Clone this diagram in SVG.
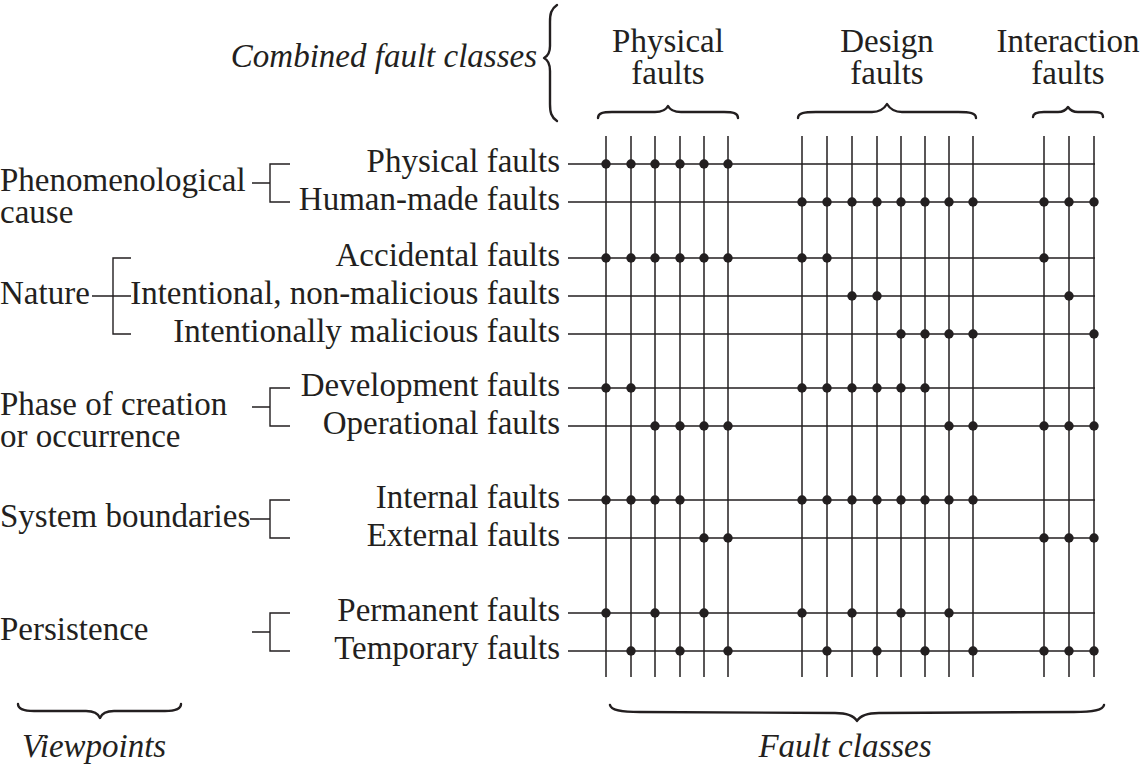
<svg xmlns="http://www.w3.org/2000/svg" width="1142" height="767" viewBox="0 0 1142 767">
<style>
text{font-family:'Liberation Serif','DejaVu Serif',serif;font-size:33px;fill:#231f20}
.it{font-style:italic}
.r{text-anchor:end}
.c{text-anchor:middle}
.ln{stroke:#231f20;stroke-width:1.5;fill:none}
.br{stroke:#231f20;stroke-width:1.4;fill:none}
.brace{stroke:#231f20;stroke-width:2.4;fill:none;stroke-linecap:round;stroke-linejoin:round}
.d{fill:#231f20}
</style>
<rect width="1142" height="767" fill="#fff"/>
<g font-family="Liberation Serif, DejaVu Serif, serif">
<g id="header">
  <text class="it r" x="537" y="67">Combined fault classes</text>
  <path class="brace" stroke-width="1.8" d="M557,5 C551,9 550,14 550,22 L550,46 C550,53 548,56 544,58 C548,60 550,64 550,71 L550,104 C550,112 551,117 557,121"/>
  <g id="hdr-physical">
    <text class="c" x="668" y="52">Physical</text>
    <text class="c" x="668" y="84">faults</text>
    <path class="brace" d="M598,118 C598,113 603,112 612,112 L655,112 C662,112 666,110 668,106 C670,110 674,112 681,112 L724,112 C733,112 738,113 738,118"/>
  </g>
  <g id="hdr-design">
    <text class="c" x="887" y="52">Design</text>
    <text class="c" x="887" y="84">faults</text>
    <path class="brace" stroke-width="3" d="M798,118 C798,113 804,112 816,112 L872,112 C880,112 884,109 887,104 C890,109 894,112 902,112 L958,112 C970,112 976,113 976,118"/>
  </g>
  <g id="hdr-interaction">
    <text class="c" x="1068" y="52">Interaction</text>
    <text class="c" x="1068" y="84">faults</text>
    <path class="brace" d="M1033,117 C1033,113 1037,112 1044,112 L1058,112 C1063,112 1066,110 1068,107 C1070,110 1073,112 1078,112 L1093,112 C1100,112 1103,113 1103,117"/>
  </g>
</g>

<g id="vp-phenomenological"><text x="0" y="191">Phenomenological</text><text x="0" y="223">cause</text></g>
<g id="vp-nature"><text x="0" y="304">Nature</text></g>
<g id="vp-phase"><text x="0" y="415">Phase of creation</text><text x="0" y="447">or occurrence</text></g>
<g id="vp-boundaries"><text x="0" y="527">System boundaries</text></g>
<g id="vp-persistence"><text x="0" y="640">Persistence</text></g>

<g id="f-physical"><text class="r" x="560" y="172">Physical faults</text></g>
<g id="f-human"><text class="r" x="560" y="210">Human-made faults</text></g>
<g id="f-accidental"><text class="r" x="560" y="266">Accidental faults</text></g>
<g id="f-nonmal"><text class="r" x="560" y="304">Intentional, non-malicious faults</text></g>
<g id="f-malicious"><text class="r" x="560" y="342">Intentionally malicious faults</text></g>
<g id="f-development"><text class="r" x="560" y="396">Development faults</text></g>
<g id="f-operational"><text class="r" x="560" y="434">Operational faults</text></g>
<g id="f-internal"><text class="r" x="560" y="508">Internal faults</text></g>
<g id="f-external"><text class="r" x="560" y="546">External faults</text></g>
<g id="f-permanent"><text class="r" x="560" y="621">Permanent faults</text></g>
<g id="f-temporary"><text class="r" x="560" y="659">Temporary faults</text></g>

<g id="connectors">
  <path class="br" d="M252,183 H270 M290,164 H270 V202 H290"/>
  <path class="br" d="M92,296 H131 M131,258 H113 V334 H131"/>
  <path class="br" d="M252,407 H270 M290,388 H270 V426 H290"/>
  <path class="br" d="M250,519 H270 M290,500 H270 V538 H290"/>
  <path class="br" d="M252,632 H270 M290,613 H270 V651 H290"/>
  <path class="ln" d="M568,164 H1095 M568,202 H1095 M568,258 H1095 M568,296 H1095 M568,334 H1095 M568,388 H1095 M568,426 H1095 M568,500 H1095 M568,538 H1095 M568,613 H1095 M568,651 H1095"/>
  <path class="ln" d="M606,136 V677 M631,136 V677 M655,136 V677 M680,136 V677 M704,136 V677 M728,136 V677 M802,136 V677 M827,136 V677 M852,136 V677 M877,136 V677 M901,136 V677 M925,136 V677 M949,136 V677 M973,136 V677 M1044,136 V677 M1069,136 V677 M1094,136 V677"/>
</g>

<g id="dots" class="d">
  <circle cx="606" cy="164" r="4.7"/><circle cx="631" cy="164" r="4.7"/><circle cx="655" cy="164" r="4.7"/><circle cx="680" cy="164" r="4.7"/><circle cx="704" cy="164" r="4.7"/><circle cx="728" cy="164" r="4.7"/>
  <circle cx="802" cy="202" r="4.7"/><circle cx="827" cy="202" r="4.7"/><circle cx="852" cy="202" r="4.7"/><circle cx="877" cy="202" r="4.7"/><circle cx="901" cy="202" r="4.7"/><circle cx="925" cy="202" r="4.7"/><circle cx="949" cy="202" r="4.7"/><circle cx="973" cy="202" r="4.7"/><circle cx="1044" cy="202" r="4.7"/><circle cx="1069" cy="202" r="4.7"/><circle cx="1094" cy="202" r="4.7"/>
  <circle cx="606" cy="258" r="4.7"/><circle cx="631" cy="258" r="4.7"/><circle cx="655" cy="258" r="4.7"/><circle cx="680" cy="258" r="4.7"/><circle cx="704" cy="258" r="4.7"/><circle cx="728" cy="258" r="4.7"/><circle cx="802" cy="258" r="4.7"/><circle cx="827" cy="258" r="4.7"/><circle cx="1044" cy="258" r="4.7"/>
  <circle cx="852" cy="296" r="4.7"/><circle cx="877" cy="296" r="4.7"/><circle cx="1069" cy="296" r="4.7"/>
  <circle cx="901" cy="334" r="4.7"/><circle cx="925" cy="334" r="4.7"/><circle cx="949" cy="334" r="4.7"/><circle cx="973" cy="334" r="4.7"/><circle cx="1094" cy="334" r="4.7"/>
  <circle cx="606" cy="388" r="4.7"/><circle cx="631" cy="388" r="4.7"/><circle cx="802" cy="388" r="4.7"/><circle cx="827" cy="388" r="4.7"/><circle cx="852" cy="388" r="4.7"/><circle cx="877" cy="388" r="4.7"/><circle cx="901" cy="388" r="4.7"/><circle cx="925" cy="388" r="4.7"/>
  <circle cx="655" cy="426" r="4.7"/><circle cx="680" cy="426" r="4.7"/><circle cx="704" cy="426" r="4.7"/><circle cx="728" cy="426" r="4.7"/><circle cx="949" cy="426" r="4.7"/><circle cx="973" cy="426" r="4.7"/><circle cx="1044" cy="426" r="4.7"/><circle cx="1069" cy="426" r="4.7"/><circle cx="1094" cy="426" r="4.7"/>
  <circle cx="606" cy="500" r="4.7"/><circle cx="631" cy="500" r="4.7"/><circle cx="655" cy="500" r="4.7"/><circle cx="680" cy="500" r="4.7"/><circle cx="802" cy="500" r="4.7"/><circle cx="827" cy="500" r="4.7"/><circle cx="852" cy="500" r="4.7"/><circle cx="877" cy="500" r="4.7"/><circle cx="901" cy="500" r="4.7"/><circle cx="925" cy="500" r="4.7"/><circle cx="949" cy="500" r="4.7"/><circle cx="973" cy="500" r="4.7"/>
  <circle cx="704" cy="538" r="4.7"/><circle cx="728" cy="538" r="4.7"/><circle cx="1044" cy="538" r="4.7"/><circle cx="1069" cy="538" r="4.7"/><circle cx="1094" cy="538" r="4.7"/>
  <circle cx="606" cy="613" r="4.7"/><circle cx="655" cy="613" r="4.7"/><circle cx="704" cy="613" r="4.7"/><circle cx="802" cy="613" r="4.7"/><circle cx="852" cy="613" r="4.7"/><circle cx="901" cy="613" r="4.7"/><circle cx="949" cy="613" r="4.7"/>
  <circle cx="631" cy="651" r="4.7"/><circle cx="680" cy="651" r="4.7"/><circle cx="728" cy="651" r="4.7"/><circle cx="827" cy="651" r="4.7"/><circle cx="877" cy="651" r="4.7"/><circle cx="925" cy="651" r="4.7"/><circle cx="973" cy="651" r="4.7"/><circle cx="1044" cy="651" r="4.7"/><circle cx="1069" cy="651" r="4.7"/><circle cx="1094" cy="651" r="4.7"/>
</g>

<g id="footer-viewpoints">
  <path class="brace" d="M18,704 C18,709 24,711 34,711 L86,711 C94,711 98,713 100,718 C102,713 106,711 114,711 L165,711 C175,711 181,709 181,704"/>
  <text class="it" x="22" y="757">Viewpoints</text>
</g>
<g id="footer-faultclasses">
  <path class="brace" stroke-width="3" d="M610,705 C611,710 620,712 640,712 L835,713 C848,713 854,716 857,721 C860,716 866,713 879,713 L1074,712 C1094,712 1103,710 1104,705"/>
  <text class="it c" x="845" y="757">Fault classes</text>
</g>
</g>
</svg>
